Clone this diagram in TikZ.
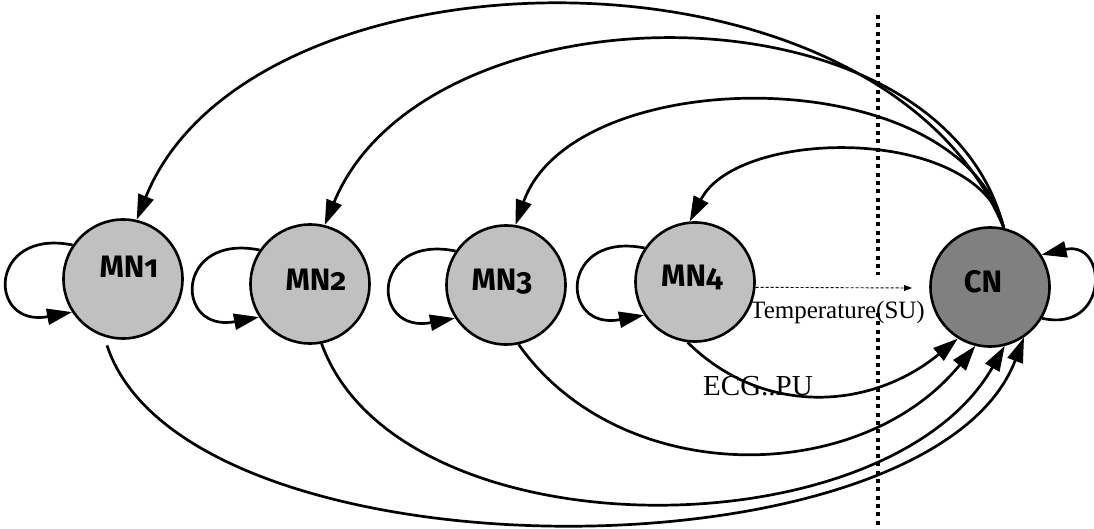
\documentclass[tikz,border=0pt]{standalone}
\usepackage{fontspec}
\setmainfont{Liberation Serif}
\newfontfamily\statefont[Numbers=OldStyle]{Fira Sans}
\usetikzlibrary{arrows.meta}
\definecolor{mngray}{RGB}{192,192,192}
\definecolor{cngray}{RGB}{128,128,128}
\begin{document}
\begin{tikzpicture}[x=1pt,y=1pt,
  state/.style={circle,draw=black,line width=2.6pt,minimum size=119pt,inner sep=0pt},
  mnstate/.style={state,fill=mngray},
  cnstate/.style={state,fill=cngray},
  statename/.style={font=\statefont\fontsize{31}{31}\bfseries\selectfont,anchor=base,inner sep=0pt,text=black},
  link/.style={line width=2.7pt,-{Triangle[length=25pt,width=16pt]}},
  sensor/.style={line width=0.9pt,dash pattern=on 3pt off 2pt,-{Triangle[length=8pt,width=6pt]}},
  divider/.style={line width=3.6pt,dash pattern=on 4pt off 4.3pt},
  tlabel/.style={font=\fontsize{25}{25}\selectfont,anchor=base west,inner sep=0pt},
  elabel/.style={font=\fontsize{29}{29}\selectfont,anchor=base west,inner sep=0pt}
]
\useasboundingbox (0,0) rectangle (1094,528);
\fill[white] (0,0) rectangle (1094,528);

% dotted boundary line, interrupted at the sensor label
\coordinate (dtop) at (878,513);
\coordinate (dgapa) at (878,253);
\coordinate (dgapb) at (878,215);
\coordinate (dbot) at (878,0);
\draw[divider] (dtop) -- (dgapa);
\draw[divider] (dgapb) -- (dbot);

% nodes
\node[mnstate] (mn1) at (123,249) {};
\node[mnstate] (mn2) at (310,244) {};
\node[mnstate] (mn3) at (506,243) {};
\node[mnstate] (mn4) at (695,246) {};
\node[cnstate] (cn) at (990,241) {};

\node[statename] (mn1l) at (129,251) {MN1};
\node[statename] (mn2l) at (316,237) {MN2};
\node[statename] (mn3l) at (502,237) {MN3};
\node[statename] (mn4l) at (692,241) {MN4};
\node[statename] (cnl) at (983,236) {CN};

% self loops
\draw[link] (mn1.146) .. controls +(-85,17) and +(-85,-16) .. (mn1.213);
\draw[link] (mn2.146) .. controls +(-85,17) and +(-85,-16) .. (mn2.213);
\draw[link] (mn3.146) .. controls +(-85,17) and +(-85,-16) .. (mn3.213);
\draw[link] (mn4.146) .. controls +(-85,17) and +(-85,-16) .. (mn4.213);
\draw[link] (cn.-31) .. controls +(67,-15) and +(67,15) .. (cn.32);

% CN to the MNs (upper arcs)
\draw[link] (cn.77) .. controls (880,600) and (250,590) .. (mn1.77);
\draw[link] (cn.77) .. controls (940,552) and (425,547) .. (mn2.76);
\draw[link] (cn.77) .. controls (960,470) and (573,467) .. (mn3.81);
\draw[link] (cn.77) .. controls (978,403) and (738,401) .. (mn4.95);

% MNs to CN (lower arcs)
\draw[link,shorten <=9pt] (mn1.-108) .. controls (185,-56) and (930,-56) .. (cn.-56);
\draw[link] (mn2.-79) .. controls (398,-27) and (885,-27) .. (cn.-76);
\draw[link] (mn3.-78) .. controls (620,40) and (859,40) .. (cn.256);
\draw[link] (mn4.-97) .. controls (762,112) and (870,117) .. (cn.238);

% sensor reading
\coordinate (tempend) at (912,240);
\draw[sensor] (mn4.-5) -- (tempend);
\node[tlabel] (templbl) at (750,210) {Temperature(SU)};
\node[elabel] (ecglbl) at (703,133) {ECG..PU};
\end{tikzpicture}
\end{document}
